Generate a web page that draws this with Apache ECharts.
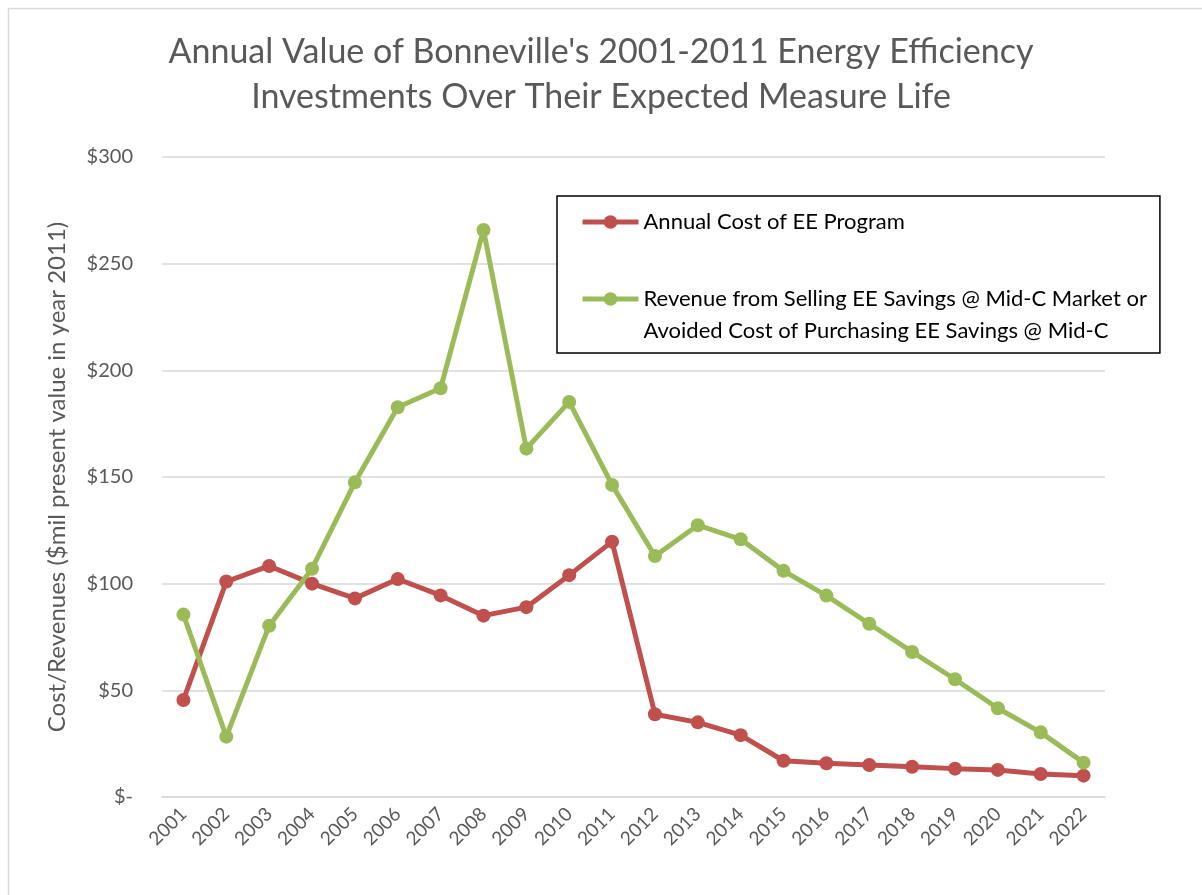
<!DOCTYPE html>
<html>
<head>
<meta charset="utf-8">
<script src="https://cdn.jsdelivr.net/npm/echarts@6/dist/echarts.min.js"></script>
<style>html,body{margin:0;padding:0;background:#fff}#c{width:1202px;height:895px}</style>
</head>
<body>
<div id="c"></div>
<script>
const years = ['2001','2002','2003','2004','2005','2006','2007','2008','2009','2010','2011','2012','2013','2014','2015','2016','2017','2018','2019','2020','2021','2022'];
const costName = 'Annual Cost of EE Program';
const revenueName = 'Revenue from Selling EE Savings @ Mid-C Market or\nAvoided Cost of Purchasing EE Savings @ Mid-C';
const costValues = [45.5, 101, 108.3, 100, 93.1, 102.2, 94.5, 85, 89, 104, 119.7, 38.8, 35, 29, 17, 15.8, 15, 14.2, 13.3, 12.7, 10.8, 10];
const revenueValues = [85.5, 28.3, 80.3, 107, 147.5, 182.7, 191.6, 265.8, 163.3, 185.2, 146.3, 113, 127.4, 120.8, 106, 94.4, 81.2, 68, 55.2, 41.6, 30.3, 16.1];
const titleText = "Annual Value of Bonneville's 2001-2011 Energy Efficiency\nInvestments Over Their Expected Measure Life";
const yAxisName = 'Cost/Revenues ($mil present value in year 2011)';

const FONT = 'Lato';
const chart = echarts.init(document.getElementById('c'), null, {renderer: 'canvas'});
chart.setOption({
  animation: false,
  backgroundColor: '#fff',
  textStyle: {fontFamily: FONT},
  graphic: [{
    type: 'rect', left: 6, top: 6, silent: true,
    shape: {width: 1210, height: 905},
    style: {fill: 'none', stroke: '#D9D9D9', lineWidth: 1.5}
  }],
  title: {
    text: titleText,
    left: 'center',
    top: 25,
    textStyle: {fontFamily: FONT, fontSize: 34, fontWeight: 'normal', color: '#595959', lineHeight: 45}
  },
  legend: {
    orient: 'vertical',
    left: 557,
    top: 196,
    padding: [10, 13, 6, 23],
    itemGap: 13,
    itemWidth: 56,
    itemHeight: 17,
    borderColor: '#000',
    borderWidth: 1.5,
    backgroundColor: '#fff',
    lineStyle: {width: 5},
    textStyle: {fontFamily: FONT, fontSize: 22, color: '#000', lineHeight: 32},
    formatter: function (name) { return name === revenueName ? '\n' + name : name; },
    data: [costName, revenueName]
  },
  grid: {left: 162, right: 97, top: 157, bottom: 98, containLabel: false},
  xAxis: {
    type: 'category',
    data: years,
    boundaryGap: true,
    axisLine: {show: true, lineStyle: {color: '#D9D9D9', width: 1.5}},
    axisTick: {show: false},
    axisLabel: {rotate: 45, margin: 14, fontSize: 19, color: '#595959', fontFamily: FONT, interval: 0}
  },
  yAxis: {
    type: 'value',
    min: 0, max: 300, interval: 50,
    name: yAxisName,
    nameLocation: 'middle',
    nameGap: 93,
    nameTextStyle: {fontSize: 24, color: '#595959', fontFamily: FONT},
    axisLine: {show: false},
    axisTick: {show: false},
    splitLine: {lineStyle: {color: '#D9D9D9', width: 1.5}},
    axisLabel: {
      margin: 29, fontSize: 20, color: '#595959', fontFamily: FONT,
      formatter: function (v) { return v === 0 ? '$-' : '$' + v; }
    }
  },
  series: [
    {
      name: costName, type: 'line', data: costValues,
      symbol: 'circle', symbolSize: 14,
      lineStyle: {color: '#C0504D', width: 5},
      itemStyle: {color: '#C0504D'}
    },
    {
      name: revenueName, type: 'line', data: revenueValues,
      symbol: 'circle', symbolSize: 14,
      lineStyle: {color: '#9BBB59', width: 5},
      itemStyle: {color: '#9BBB59'}
    }
  ]
});
</script>
</body>
</html>
